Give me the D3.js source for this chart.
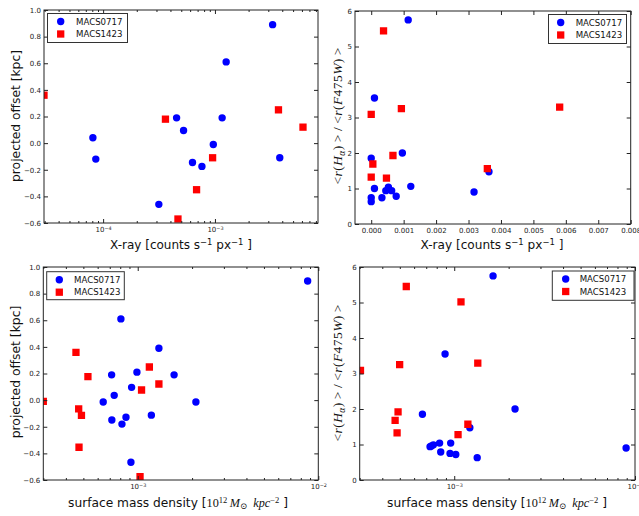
<!DOCTYPE html>
<html><head><meta charset="utf-8">
<script src="https://cdn.jsdelivr.net/npm/d3@7"></script>
<style>body{margin:0;background:#fff}svg{display:block}</style>
</head><body>
<svg id="c" width="639" height="516"></svg>
<script>
// ---------------- data ----------------
const seriesNames = ["MACS0717", "MACS1423"];

// Panel A: X-ray (log) vs projected offset
const xrayA_0717 = [8.1e-5, 8.6e-5, 3.15e-4, 4.54e-4, 5.24e-4, 6.3e-4, 7.65e-4, 9.67e-4, 1.16e-3, 1.26e-3, 3.28e-3, 3.8e-3];
const offA_0717  = [0.04, -0.12, -0.46, 0.19, 0.095, -0.145, -0.175, -0.01, 0.19, 0.61, 0.89, -0.11];
const xrayA_1423 = [2.96e-5, 3.61e-4, 4.67e-4, 6.85e-4, 9.53e-4, 3.7e-3, 6.13e-3];
const offA_1423  = [0.36, 0.18, -0.57, -0.35, -0.11, 0.25, 0.12];

// Panel B: X-ray (linear) vs size ratio
const xrayB_0717 = [1.14e-3, 0.10e-3, 0.96e-3, 0.0, 0.10e-3, 0.0, 0.0, 0.33e-3, 0.45e-3, 0.53e-3, 0.63e-3, 0.77e-3, 1.22e-3, 3.17e-3, 3.63e-3];
const ratB_0717  = [5.75, 3.55, 2.0, 1.85, 1.0, 0.74, 0.63, 0.74, 0.94, 1.04, 0.94, 0.78, 1.06, 0.9, 1.47];
const xrayB_1423 = [0.38e-3, 0.0, 0.93e-3, 5.81e-3, 0.67e-3, 0.05e-3, 0.0, 0.47e-3, 3.58e-3];
const ratB_1423  = [5.44, 3.09, 3.25, 3.29, 1.93, 1.69, 1.32, 1.29, 1.56];

// Panel C: surface mass density (log) vs projected offset
const smdC_0717 = [8.73e-3, 8.07e-4, 1.31e-3, 7.17e-4, 9.9e-4, 1.59e-3, 9.25e-4, 7.41e-4, 6.44e-4, 2.1e-3, 7.19e-4, 8.61e-4, 8.18e-4, 1.19e-3, 9.17e-4];
const offC_0717 = [0.895, 0.61, 0.39, 0.19, 0.21, 0.19, 0.096, 0.036, -0.014, -0.014, -0.149, -0.129, -0.18, -0.113, -0.467];
const smdC_1423 = [4.55e-4, 5.3e-4, 1.16e-3, 1.31e-3, 1.05e-3, 3.0e-4, 4.71e-4, 4.88e-4, 4.73e-4, 1.03e-3];
const offC_1423 = [0.359, 0.176, 0.249, 0.121, 0.076, -0.009, -0.066, -0.114, -0.354, -0.574];

// Panel D: surface mass density (log) vs size ratio
const smdD_0717 = [1.64e-3, 8.9e-4, 6.67e-4, 2.17e-3, 1.22e-3, 8.93e-3, 7.35e-4, 7.48e-4, 7.67e-4, 8.3e-4, 9.56e-4, 8.42e-4, 9.48e-4, 1.02e-3, 1.34e-3];
const ratD_0717 = [5.75, 3.55, 1.85, 2.0, 1.47, 0.90, 0.94, 0.96, 0.99, 1.04, 1.04, 0.79, 0.75, 0.72, 0.63];
const smdD_1423 = [5.43e-4, 1.09e-3, 4.99e-4, 1.35e-3, 3.03e-4, 4.89e-4, 4.71e-4, 4.83e-4, 1.19e-3, 1.05e-3];
const ratD_1423 = [5.45, 5.02, 3.25, 3.29, 3.09, 1.92, 1.68, 1.33, 1.57, 1.28];

// ticks
const offsetTicks = [-0.6, -0.4, -0.2, 0.0, 0.2, 0.4, 0.6, 0.8, 1.0];
const ratioTicks  = [0, 1, 2, 3, 4, 5, 6];
const xrayLinTicks = [0, 0.001, 0.002, 0.003, 0.004, 0.005, 0.006, 0.007, 0.008];
const xrayLogTicks = [1e-4, 1e-3];
const smdLogTicks  = [1e-3, 1e-2];

// ---------------- drawing ----------------
const svg = d3.select("#c");
const SANS = "'DejaVu Sans', sans-serif";
const SERIF = "'Liberation Serif', 'DejaVu Serif', serif";
const BLUE = "#0000ff", RED = "#ff0000";
const zip = (a, b) => a.map((v, i) => [v, b[i]]);
const isPow10 = v => Math.abs(Math.log10(v) - Math.round(Math.log10(v))) < 1e-9;

function styleAxis(g) {
  g.select(".domain").remove();
  g.attr("font-family", SANS).attr("font-size", 7);
  g.selectAll(".tick line").attr("stroke", "#222");
  g.selectAll(".tick text").attr("fill", "#222");
}

function powLabels(g) {
  g.selectAll(".tick text").each(function(d) {
    const t = d3.select(this);
    const e = Math.round(Math.log10(d));
    t.text("");
    t.append("tspan").text("10");
    t.append("tspan").attr("font-size", "70%").attr("dy", "-0.5em").text((e < 0 ? "\u2212" : "") + Math.abs(e));
  });
}

function addParts(text, parts) {
  let shift = 0;
  parts.forEach(([str, kind, fam]) => {
    const ts = text.append("tspan").text(str);
    let target = 0;
    if (kind === "sup") { ts.attr("font-size", "70%"); target = -0.36; }
    if (kind === "sub") { ts.attr("font-size", "70%"); target = 0.2; }
    const fs = (kind === "sup" || kind === "sub") ? 0.7 : 1;
    const dy = (target - shift) / fs;
    if (Math.abs(dy) > 1e-6) ts.attr("dy", dy.toFixed(3) + "em");
    shift = target;
    if (fam === "serif" || fam === "it") ts.attr("font-family", SERIF);
    if (fam === "it") ts.attr("font-style", "italic");
  });
}

function fit(text, target) {
  const base = +text.attr("font-size");
  const len = text.node().getComputedTextLength();
  if (len > 0) text.attr("font-size", base * target / len);
}

function xrayLabel(text) {
  addParts(text, [["X-ray [counts s", "n"], ["\u22121", "sup"], [" px", "n"], ["\u22121", "sup"], [" ]", "n"]]);
}
function smdLabel(text) {
  addParts(text, [["surface mass density [", "n"], ["10", "n", "serif"], ["12", "sup", "serif"], ["\u2009", "n"],
    ["M", "n", "it"], ["\u2299", "sub", "serif"], ["\u2002", "n"], ["kpc", "n", "it"], ["\u22122", "sup", "serif"], [" ]", "n"]]);
}
function offsetLabel(text) { text.text("projected offset [kpc]"); }
function ratioLabel(text) {
  addParts(text, [["<", "n", "serif"], ["r", "n", "it"], ["(", "n", "serif"], ["H", "n", "it"], ["\u03b1", "sub", "it"],
    [")\u2009>", "n", "serif"], ["\u2009/\u2009", "n", "serif"], ["<", "n", "serif"], ["r", "n", "it"], ["(", "n", "serif"],
    ["F", "n", "it"], ["475", "n", "serif"], ["W", "n", "it"], [")\u2009>", "n", "serif"]]);
}

function panel(cfg) {
  const [l, r, t, b] = cfg.box;
  const x = (cfg.log ? d3.scaleLog() : d3.scaleLinear()).domain(cfg.xDomain).range([l, r]);
  const y = d3.scaleLinear().domain(cfg.yDomain).range([b, t]);
  const g = svg.append("g");
  const cid = "clip" + cfg.id;
  svg.append("clipPath").attr("id", cid).append("rect")
    .attr("x", l).attr("y", t).attr("width", r - l).attr("height", b - t);

  const pts = g.append("g").attr("clip-path", `url(#${cid})`);
  const circ = d3.symbol(d3.symbolCircle, Math.PI * 3.7 * 3.7);
  const sq = d3.symbol(d3.symbolSquare, 7.3 * 7.3);
  pts.selectAll("path.b").data(zip(cfg.bx, cfg.by)).join("path").attr("class", "b")
    .attr("d", circ).attr("fill", BLUE)
    .attr("transform", d => `translate(${x(d[0])},${y(d[1])})`);
  pts.selectAll("path.r").data(zip(cfg.rx, cfg.ry)).join("path").attr("class", "r")
    .attr("d", sq).attr("fill", RED)
    .attr("transform", d => `translate(${x(d[0])},${y(d[1])})`);

  const bottom = g.append("g").attr("transform", `translate(0,${b})`)
    .call(d3.axisBottom(x).tickValues(cfg.xTicks).tickSize(-4).tickSizeOuter(0).tickPadding(4).tickFormat(cfg.xFmt || (() => "")));
  styleAxis(bottom);
  if (cfg.log) powLabels(bottom);
  const top = g.append("g").attr("transform", `translate(0,${t})`)
    .call(d3.axisTop(x).tickValues(cfg.xTicks).tickSize(-4).tickSizeOuter(0).tickFormat(() => ""));
  styleAxis(top);
  const left = g.append("g").attr("transform", `translate(${l},0)`)
    .call(d3.axisLeft(y).tickValues(cfg.yTicks).tickSize(-4).tickSizeOuter(0).tickPadding(3).tickFormat(cfg.yFmt));
  styleAxis(left);
  const right = g.append("g").attr("transform", `translate(${r},0)`)
    .call(d3.axisRight(y).tickValues(cfg.yTicks).tickSize(-4).tickSizeOuter(0).tickFormat(() => ""));
  styleAxis(right);
  if (cfg.log) {
    const minor = x.ticks().filter(v => !isPow10(v));
    [[d3.axisBottom, b], [d3.axisTop, t]].forEach(([ax, pos]) => {
      const m = g.append("g").attr("transform", `translate(0,${pos})`)
        .call(ax(x).tickValues(minor).tickSize(-2).tickSizeOuter(0).tickFormat(() => ""));
      styleAxis(m);
    });
  }

  g.append("rect").attr("x", l).attr("y", t).attr("width", r - l).attr("height", b - t)
    .attr("fill", "none").attr("stroke", "#222").attr("stroke-width", 1);

  const L = cfg.legend;
  const lg = g.append("g");
  lg.append("rect").attr("x", L[0]).attr("y", L[1]).attr("width", L[2] - L[0]).attr("height", L[3] - L[1])
    .attr("fill", "#fff").attr("stroke", "#333").attr("stroke-width", 1);
  const rowY = [L[1] + 8, L[1] + 20.5];
  lg.append("path").attr("d", circ).attr("fill", BLUE).attr("transform", `translate(${L[4]},${rowY[0]})`);
  lg.append("path").attr("d", sq).attr("fill", RED).attr("transform", `translate(${L[4]},${rowY[1]})`);
  seriesNames.forEach((s, i) => {
    lg.append("text").attr("x", L[5]).attr("y", rowY[i] + 3.1).attr("font-family", SANS)
      .attr("font-size", 8.6).attr("fill", "#111").text(s);
  });

  const xl = svg.append("text").attr("x", cfg.xLab[0]).attr("y", cfg.xLab[1]).attr("text-anchor", "middle")
    .attr("font-family", SANS).attr("font-size", 12.3).attr("fill", "#111");
  cfg.xLabelFn(xl);
  fit(xl, cfg.xLab[2]);
  const yl = svg.append("text").attr("transform", `translate(${cfg.yLab[0]},${cfg.yLab[1]}) rotate(-90)`)
    .attr("text-anchor", "middle").attr("font-family", SANS).attr("font-size", cfg.yLab[3] || 12.3).attr("fill", "#111");
  cfg.yLabelFn(yl);
  if (cfg.yLab[3]) {
    yl.attr("textLength", cfg.yLab[2]).attr("lengthAdjust", "spacing");
  } else fit(yl, cfg.yLab[2]);
}

const fmt1 = d3.format(".1f");
const fmt3 = d3.format(".3f");
const fmt0 = d3.format("d");

panel({ id: "A", box: [44, 318, 10, 223], log: true, xDomain: [2.96e-5, 8.35e-3], yDomain: [-0.6, 1.0],
  xTicks: xrayLogTicks, yTicks: offsetTicks, xFmt: d => d, yFmt: fmt1,
  bx: xrayA_0717, by: offA_0717, rx: xrayA_1423, ry: offA_1423,
  legend: [47.5, 13.5, 127.5, 42.5, 60.7, 76],
  xLab: [181, 249, 142], xLabelFn: xrayLabel, yLab: [19.5, 116, 132], yLabelFn: offsetLabel });

panel({ id: "B", box: [355, 630.7, 11, 224], log: false, xDomain: [-0.0005, 0.008], yDomain: [0, 6],
  xTicks: xrayLinTicks, yTicks: ratioTicks, xFmt: fmt3, yFmt: fmt0,
  bx: xrayB_0717, by: ratB_0717, rx: xrayB_1423, ry: ratB_1423,
  legend: [548.5, 14.5, 626.5, 43.5, 560.7, 575.7],
  xLab: [492, 249, 143], xLabelFn: xrayLabel, yLab: [342, 116, 137, 13.5], yLabelFn: ratioLabel });

panel({ id: "C", box: [43.3, 318.3, 267, 480], log: true, xDomain: [3.0e-4, 1e-2], yDomain: [-0.6, 1.0],
  xTicks: smdLogTicks, yTicks: offsetTicks, xFmt: d => d, yFmt: fmt1,
  bx: smdC_0717, by: offC_0717, rx: smdC_1423, ry: offC_1423,
  legend: [46.7, 271.7, 124.3, 299.7, 59.3, 74],
  xLab: [178, 507, 220], xLabelFn: smdLabel, yLab: [19.5, 372, 132.7], yLabelFn: offsetLabel });

panel({ id: "D", box: [359.7, 635, 267, 480], log: true, xDomain: [3.0e-4, 1e-2], yDomain: [0, 6],
  xTicks: smdLogTicks, yTicks: ratioTicks, xFmt: d => d, yFmt: fmt0,
  bx: smdD_0717, by: ratD_0717, rx: smdD_1423, ry: ratD_1423,
  legend: [552.3, 271, 634, 300.3, 565.7, 579.7],
  xLab: [497, 507, 220], xLabelFn: smdLabel, yLab: [342, 373, 137, 13.5], yLabelFn: ratioLabel });
</script>
</body></html>
